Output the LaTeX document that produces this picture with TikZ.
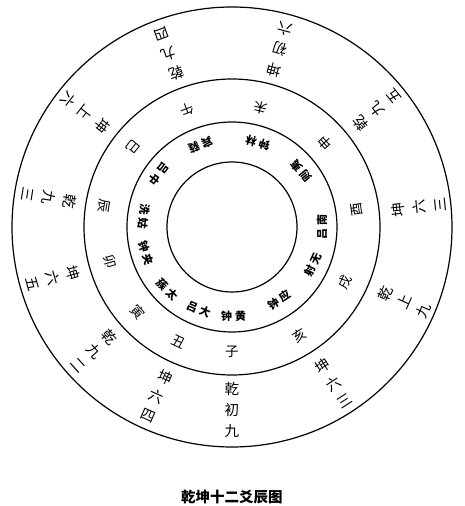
\documentclass[tikz,border=0pt]{standalone}
\usepackage{fontspec}
\newfontfamily\cjk{Noto Sans CJK SC}
% two-character pitch name, set so that it reads clockwise
\newcommand{\luname}[2]{#2\hspace{3pt}#1}

\begin{document}
\begin{tikzpicture}[
    ring/.style={line width=1.2pt},
    lvs/.style={font=\cjk\bfseries\fontsize{11}{11}\selectfont, inner sep=0pt},
    zhi/.style={font=\cjk\fontsize{13.5}{13.5}\selectfont, inner sep=0pt},
    yao/.style={font=\cjk\fontsize{14.5}{21}\selectfont, align=center, inner sep=0pt},
    figtitle/.style={font=\cjk\bfseries\fontsize{14.5}{14.5}\selectfont}]
    \useasboundingbox (-232pt,-279pt) rectangle (232pt,227pt);
    \coordinate (O) at (0,0);

    \draw[ring] (O) circle (65pt);
    \draw[ring] (O) circle (105pt);
    \draw[ring] (O) circle (148pt);
    \draw[ring] (O) circle (220pt);

    % twelve pitches
    \node[lvs, rotate=1]   (huangzhong) at (-89:89pt)  {\luname{黄}{钟}};
    \node[lvs, rotate=-23] (dalv)       at (-112:89pt) {\luname{大}{吕}};
    \node[lvs, rotate=-45] (taicou)     at (-136:90pt) {\luname{太}{蔟}};
    \node[lvs, rotate=-73] (jiazhong)   at (-163:90pt) {\luname{夹}{钟}};
    \node[lvs, rotate=263] (guxian)     at (173:89pt)  {\luname{姑}{洗}};
    \node[lvs, rotate=233] (zhonglv)    at (144:90pt)  {\luname{中}{吕}};
    \node[lvs, rotate=201] (ruibin)     at (111:88pt)  {\luname{蕤}{宾}};
    \node[lvs, rotate=163] (linzhong)   at (73:88pt)   {\luname{林}{钟}};
    \node[lvs, rotate=130] (yize)       at (39:89pt)   {\luname{夷}{则}};
    \node[lvs, rotate=90]  (nanlv)      at (0:90pt)    {\luname{南}{吕}};
    \node[lvs, rotate=65]  (wuyi)       at (-25:89pt)  {\luname{无}{射}};
    \node[lvs, rotate=33]  (yingzhong)  at (-57:87pt)  {\luname{应}{钟}};

    % twelve branches
    \node[zhi, rotate=0]     (zi)   at (-90:125pt)   {子};
    \node[zhi, rotate=-25]   (chou) at (-115:127pt)  {丑};
    \node[zhi, rotate=-48]   (yin)  at (-138:127pt)  {寅};
    \node[zhi, rotate=-74]   (mao)  at (-164:127pt)  {卯};
    \node[zhi, rotate=260.5] (chen) at (170.5:130pt) {辰};
    \node[zhi, rotate=231]   (si)   at (141:127pt)   {巳};
    \node[zhi, rotate=201]   (wu)   at (111:126pt)   {午};
    \node[zhi, rotate=166.5] (wei)  at (76.5:122pt)  {未};
    \node[zhi, rotate=132]   (shen) at (42:125pt)    {申};
    \node[zhi, rotate=98]    (you)  at (8:126pt)     {酉};
    \node[zhi, rotate=64]    (xu)   at (-26:126pt)   {戌};
    \node[zhi, rotate=32]    (hai)  at (-58:128pt)   {亥};

    % twelve lines of qian and kun
    \node[yao, rotate=0]   (qian1) at (-90:183pt)  {乾\\初\\九};
    \node[yao, rotate=-24] (kun4)  at (-114:185pt) {坤\\六\\四};
    \node[yao, rotate=-48] (qian2) at (-138:185pt) {乾\\九\\二};
    \node[yao, rotate=-74] (kun5)  at (-164:186pt) {坤\\六\\五};
    \node[yao, rotate=261] (qian3) at (171:185pt)  {乾\\九\\三};
    \node[yao, rotate=232] (kun6)  at (142:186pt)  {坤\\上\\六};
    \node[yao, rotate=200] (qian4) at (110:184pt)  {乾\\九\\四};
    \node[yao, rotate=165] (kun1)  at (75:184pt)   {坤\\初\\六};
    \node[yao, rotate=129] (qian5) at (39:186pt)   {乾\\九\\五};
    \node[yao, rotate=96]  (kun2)  at (6:188pt)    {坤\\六\\三};
    \node[yao, rotate=66]  (qian6) at (-23.5:188pt) {乾\\上\\九};
    \node[yao, rotate=33]  (kun3)  at (-57:186pt)  {坤\\六\\三};

    \node[figtitle] (caption) at (0pt,-270pt) {乾坤十二爻辰图};
\end{tikzpicture}
\end{document}
